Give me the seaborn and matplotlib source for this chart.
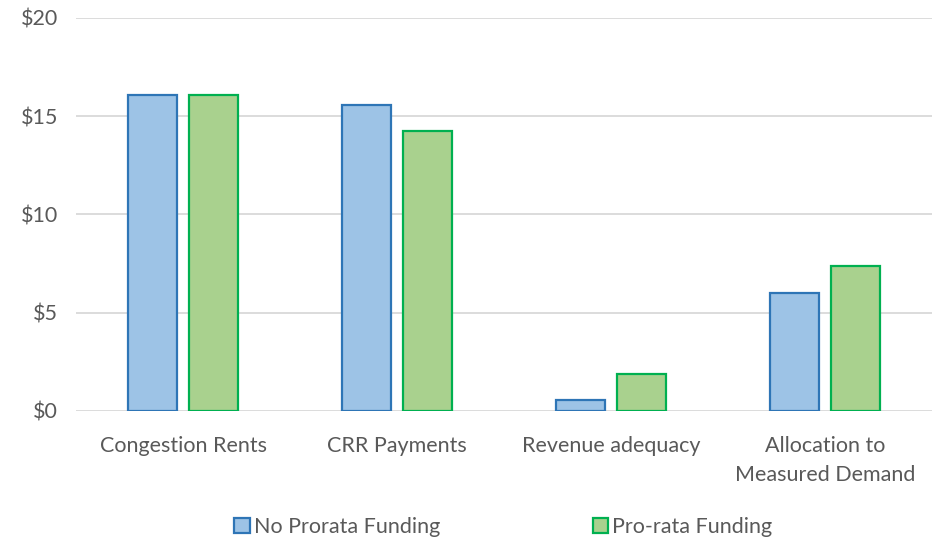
import pandas as pd
import seaborn as sns
import matplotlib.pyplot as plt
from matplotlib.ticker import FuncFormatter

# values ($)
categories = ["Congestion Rents", "CRR Payments", "Revenue adequacy",
              "Allocation to\nMeasured Demand"]
no_prorata = [16.1, 15.55, 0.55, 6.0]
pro_rata = [16.1, 14.25, 1.9, 7.4]
series_names = ["No Prorata Funding", "Pro-rata Funding"]

df = pd.DataFrame({
    "category": categories * 2,
    "value": no_prorata + pro_rata,
    "series": [series_names[0]] * 4 + [series_names[1]] * 4,
})

sns.set_theme(style="white")
plt.rcParams["font.family"] = ["Lato", "DejaVu Sans"]

fills = ["#9dc3e6", "#a9d18e"]
edges = ["#2e75b6", "#00b050"]

fig = plt.figure(figsize=(9.41, 5.4), dpi=100)
ax = fig.add_axes([0.0808, 0.2389, 0.9096, 0.7278])

sns.barplot(data=df, x="category", y="value", hue="series",
            palette=fills, saturation=1, width=0.57, gap=0.2, ax=ax,
            legend=False)

# outline colours per series
for cont, ec in zip(ax.containers, edges):
    for bar in cont:
        bar.set_edgecolor(ec)
        bar.set_linewidth(1.6)

ax.set_ylim(0, 20)
ax.set_yticks([0, 5, 10, 15, 20])
ax.yaxis.set_major_formatter(FuncFormatter(lambda v, p: f"${v:.0f}"))
ax.set_xlim(-0.5, 3.5)
ax.yaxis.grid(True, color="#d9d9d9", linewidth=1.3)
ax.set_axisbelow(True)
for s in ax.spines.values():
    s.set_visible(False)
ax.set_xlabel("")
ax.set_ylabel("")
ax.tick_params(axis="both", colors="#595959", labelsize=15.5, length=0)
ax.tick_params(axis="y", pad=13)
ax.tick_params(axis="x", pad=18)
for lab in ax.get_xticklabels():
    lab.set_linespacing(1.55)

handles = [plt.Rectangle((0, 0), 1, 1, facecolor=f, edgecolor=e, linewidth=1.6)
           for f, e in zip(fills, edges)]
leg = fig.legend(handles, series_names, loc="lower center", ncol=2,
                 bbox_to_anchor=(0.535, -0.03), frameon=False, fontsize=15.5,
                 handlelength=0.7, handleheight=0.7, handletextpad=0.2,
                 columnspacing=7.1)
for t in leg.get_texts():
    t.set_color("#595959")

fig.savefig("out.png", dpi=100)
